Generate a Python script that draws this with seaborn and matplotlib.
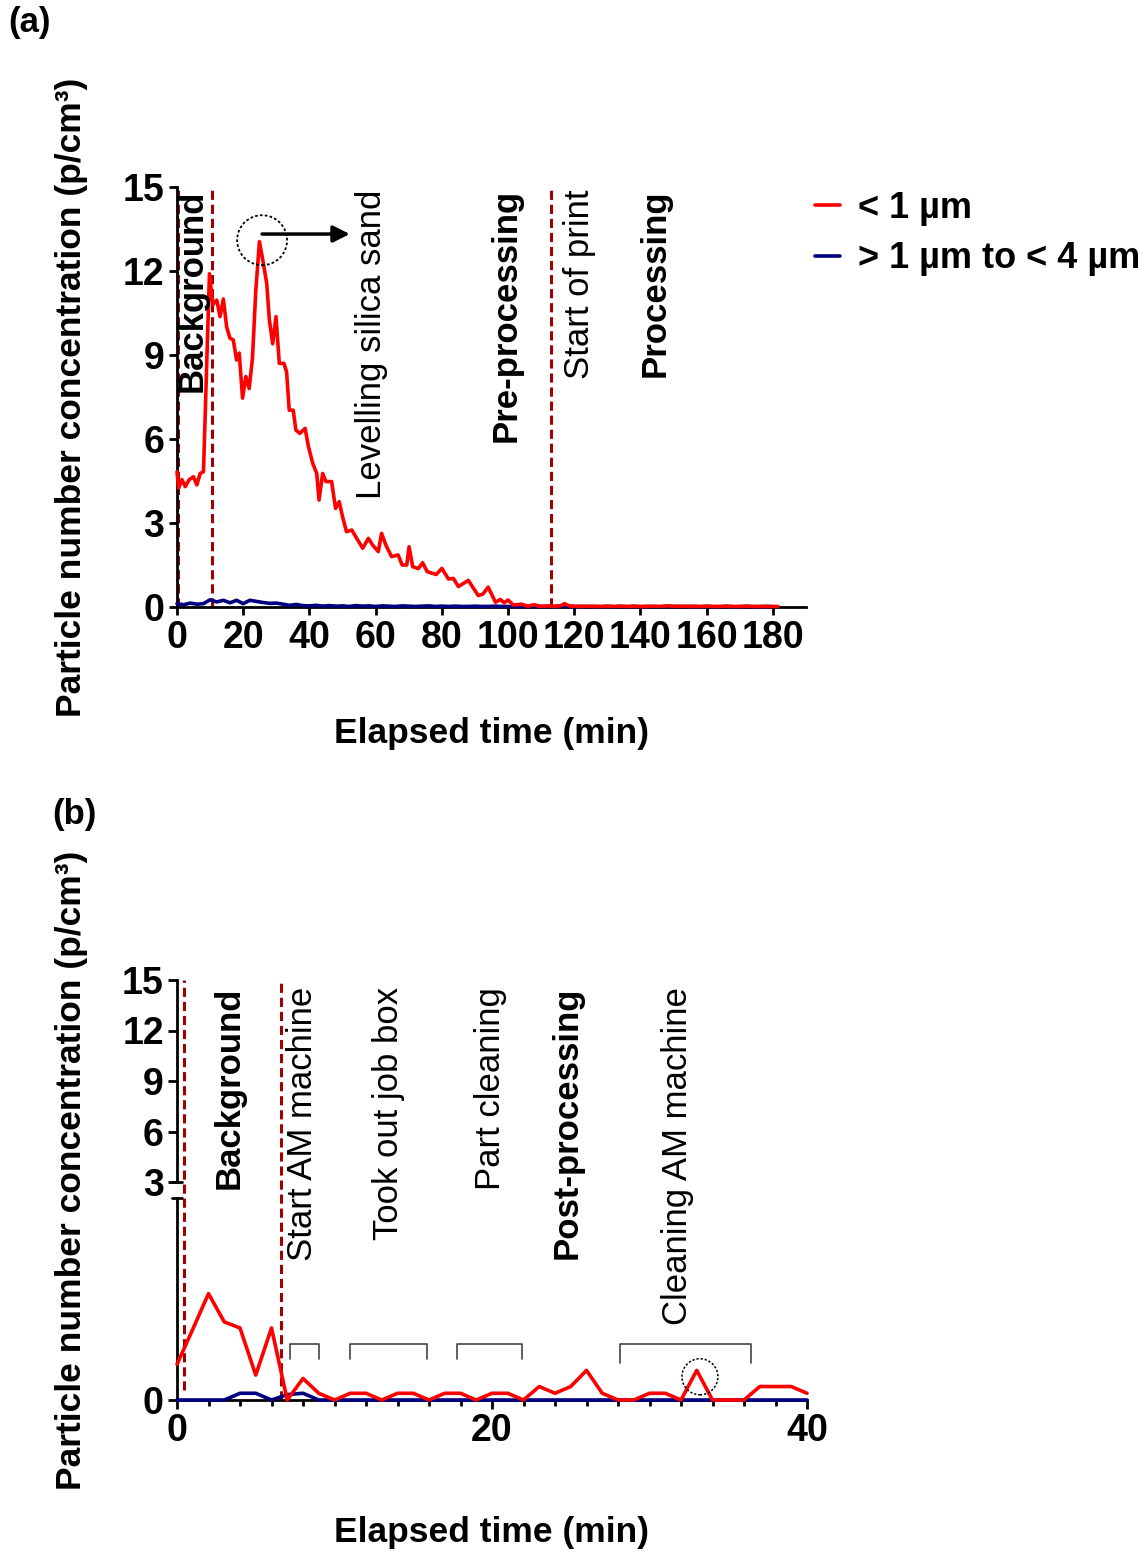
import matplotlib
matplotlib.use("Agg")
import matplotlib.pyplot as plt
import seaborn as sns
import pandas as pd
from matplotlib.patches import Ellipse

# ---------------- data ----------------
SMALL = "< 1 µm"
LARGE = "> 1 µm to < 4 µm"

# panel (a): < 1 µm series (time in min, concentration p/cm3)
a_red_t = [0, 0.5, 1.5, 2.5, 3.7, 5, 6, 7, 8, 9.8, 10.8, 12, 13, 14, 15, 16, 17, 18, 18.8,
           19.8, 20.8, 21.8, 22.8, 23.8, 24.9, 25.9, 27.1, 27.9, 28.9, 29.9, 30.9, 32.3, 33.1,
           33.9, 35.1, 35.9, 37.1, 38.7, 39.7, 41, 42.2, 42.9, 44, 45, 46.7, 47.9, 49, 50, 51.2,
           52.8, 54.3, 56.1, 57.8, 59.1, 60.8, 61.8, 63.1, 64.8, 66.8, 68, 69.4, 70.1, 71.2,
           72.9, 74.2, 75.6, 78.3, 80, 82, 83.5, 85, 88, 91, 92.4, 94, 96.2, 97.7, 98.8, 100,
           101.6, 104, 106, 107.8, 110, 112, 114, 116, 117, 118.5, 120, 122, 124, 126, 128,
           130, 132, 134, 136, 138, 140, 142, 144, 146, 148, 150, 152, 154, 156, 158, 160,
           162, 164, 166, 168, 170, 172, 174, 176, 178, 180, 181.5]
a_red_v = [4.83, 4.25, 4.55, 4.3, 4.55, 4.65, 4.36, 4.77, 4.83, 11.9, 10.8, 10.96, 10.37, 11.0,
           10.0, 9.6, 9.54, 8.82, 9.07, 7.46, 8.23, 7.8, 8.9, 11.3, 13.05, 12.4, 11.56, 10.25,
           9.4, 10.37, 8.7, 8.7, 8.4, 7.03, 7.03, 6.32, 6.2, 6.38, 5.73, 5.13, 4.77, 3.82, 4.77,
           4.48, 4.48, 3.52, 3.76, 3.23, 2.69, 2.75, 2.45, 2.1, 2.45, 2.21, 1.98, 2.63, 2.21,
           1.8, 1.86, 1.5, 1.5, 2.15, 1.44, 1.37, 1.58, 1.26, 1.16, 1.38, 1.0, 1.02, 0.73,
           0.95, 0.41, 0.46, 0.71, 0.17, 0.27, 0.15, 0.25, 0.07, 0.1, 0.03, 0.08, 0.02, 0.04,
           0.02, 0.05, 0.12, 0.04, 0.03, 0.02, 0.03, 0.02, 0.02, 0.03, 0.02, 0.03, 0.02, 0.03,
           0.02, 0.02, 0.03, 0.02, 0.04, 0.03, 0.02, 0.03, 0.02, 0.02, 0.03, 0.02, 0.02, 0.03,
           0.02, 0.02, 0.03, 0.02, 0.02, 0.02, 0.02, 0.02]

# panel (a): > 1 µm to < 4 µm series (every 2 min)
a_blue_t = list(range(0, 182, 2))
a_blue_v = [0.12, 0.08, 0.14, 0.10, 0.12,
            0.26, 0.18, 0.24, 0.15, 0.24,
            0.12, 0.24, 0.20, 0.16, 0.13,
            0.14, 0.10, 0.06, 0.09, 0.05,
            0.04, 0.06, 0.03, 0.05, 0.03,
            0.04, 0.02, 0.05, 0.03, 0.04,
            0.02, 0.04, 0.03, 0.02, 0.04,
            0.03, 0.02, 0.03, 0.04, 0.02,
            0.03, 0.02, 0.03, 0.02, 0.02,
            0.03, 0.02, 0.02, 0.03, 0.02,
            0.02, 0.01, 0.02, 0.02, 0.01,
            0.02, 0.01, 0.02, 0.03, 0.02,
            0.01, 0.02, 0.01, 0.02, 0.01,
            0.02, 0.01, 0.02, 0.01, 0.02,
            0.01, 0.02, 0.01, 0.01, 0.02,
            0.01, 0.02, 0.01, 0.02, 0.01,
            0.02, 0.01, 0.01, 0.02, 0.01,
            0.01, 0.02, 0.01, 0.01, 0.02,
            0.01]

# panel (b): one reading per minute, 0..40 min
b_t = list(range(0, 41))
b_red_v = [0.53, 1.05, 1.58, 1.16, 1.07, 0.37, 1.07, 0.0, 0.32, 0.1, 0.0, 0.1, 0.1, 0.0,
           0.1, 0.1, 0.0, 0.1, 0.1, 0.0, 0.1, 0.1, 0.0, 0.2, 0.1, 0.2, 0.44, 0.1, 0.0, 0.0,
           0.1, 0.1, 0.0, 0.44, 0.0, 0.0, 0.0, 0.2, 0.2, 0.2, 0.1]
b_blue_v = [0, 0, 0, 0, 0.1, 0.1, 0, 0.08, 0.1, 0, 0, 0, 0, 0, 0, 0, 0, 0, 0, 0, 0, 0, 0, 0,
            0, 0, 0, 0, 0, 0, 0, 0, 0, 0, 0, 0, 0, 0, 0, 0, 0]

a_xticks = [0, 20, 40, 60, 80, 100, 120, 140, 160, 180]
a_yticks = [0, 3, 6, 9, 12, 15]
b_upper_yticks = [3, 6, 9, 12, 15]
b_xticks = [0, 20, 40]

a_phase_lines = [0.3, 10.5, 113]
b_phase_lines = [0.46, 6.6]

a_notes = [("Background", 4.5, "bold"), ("Levelling silica sand", 58.9, "normal"),
           ("Pre-processing", 99.4, "bold"), ("Start of print", 121.7, "normal"),
           ("Processing", 144.4, "bold")]
b_notes = [("Background", 3.3, "bold"), ("Start AM machine", 8.0, "normal"),
           ("Took out job box", 13.4, "normal"), ("Part cleaning", 19.9, "normal"),
           ("Post-processing", 24.8, "bold"), ("Cleaning AM machine", 31.8, "normal")]
b_brackets = [(7.15, 9.0, 0.61), (11.0, 15.9, 0.61), (17.8, 21.9, 0.61), (28.1, 36.45, 0.55)]

RED = "#FF0000"
NAVY = "#000080"
DASH = "#A00000"

# ---------------- style ----------------
sns.set_theme(style="ticks", rc={"axes.edgecolor": "black", "xtick.color": "black",
                                 "ytick.color": "black", "text.color": "black",
                                 "axes.labelcolor": "black"})
plt.rcParams["font.family"] = ["Liberation Sans", "DejaVu Sans"]
plt.rcParams["font.weight"] = "bold"
plt.rcParams["axes.labelweight"] = "bold"

W, H = 1147, 1553
TICK_FS = 27
LABEL_FS = 25.5
NOTE_FS = 25
LW = 2.6
fig = plt.figure(figsize=(W / 100, H / 100), dpi=100)


def rect(x0, y_top, x1, y_bot):
    return [x0 / W, 1 - y_bot / H, (x1 - x0) / W, (y_bot - y_top) / H]


ax_a = fig.add_axes(rect(177, 187, 806, 607))
ax_bt = fig.add_axes(rect(177, 980, 807, 1182))
ax_bb = fig.add_axes(rect(177, 1198, 807, 1400), sharex=ax_bt)

palette = {SMALL: RED, LARGE: NAVY}
order = [LARGE, SMALL]

df_a = pd.concat([
    pd.DataFrame({"time": a_blue_t, "conc": a_blue_v, "size": LARGE}),
    pd.DataFrame({"time": a_red_t, "conc": a_red_v, "size": SMALL}),
])
df_b = pd.concat([
    pd.DataFrame({"time": b_t, "conc": b_blue_v, "size": LARGE}),
    pd.DataFrame({"time": b_t, "conc": b_red_v, "size": SMALL}),
])

sns.lineplot(data=df_a, x="time", y="conc", hue="size", hue_order=order, palette=palette,
             estimator=None, lw=LW, ax=ax_a, clip_on=False, zorder=3)
sns.lineplot(data=df_b, x="time", y="conc", hue="size", hue_order=order, palette=palette,
             estimator=None, lw=LW, ax=ax_bb, clip_on=False, zorder=3, legend=False)

# ---------------- panel (a) axes ----------------
ax_a.set_xlim(0, 190)
ax_a.set_ylim(0, 15)
ax_a.set_xticks(a_xticks)
ax_a.set_yticks(a_yticks)
for s in ["top", "right"]:
    ax_a.spines[s].set_visible(False)
for s in ["left", "bottom"]:
    ax_a.spines[s].set_linewidth(2)
ax_a.tick_params(direction="out", length=6, width=2, labelsize=TICK_FS, pad=3)
ax_a.set_xlabel("Elapsed time (min)", fontsize=LABEL_FS)
ax_a.set_ylabel("Particle number concentration (p/cm³)", fontsize=LABEL_FS)
ax_a.xaxis.set_label_coords(0.5, -0.262)
ax_a.yaxis.set_label_coords(-0.142, 0.5)

for x in a_phase_lines:
    ax_a.axvline(x, color=DASH, lw=2.2, ls=(0, (3, 1.6)), zorder=2)
for txt, x, w in a_notes:
    ax_a.text(x, 14.92, txt, rotation=90, ha="center", va="top", fontsize=NOTE_FS,
              fontweight=w)

ax_a.add_patch(Ellipse((25.7, 13.1), 2 * 25 / 3.311, 2 * 25 / 28, fill=False, ec="black",
                       lw=1.3, ls=(0, (1.5, 1.2)), zorder=4))
ax_a.annotate("", xy=(52.2, 13.32), xytext=(25.7, 13.32),
              arrowprops=dict(arrowstyle="-|>", color="black", lw=2.5, mutation_scale=25,
                              shrinkA=0, shrinkB=0))

h, l = ax_a.get_legend_handles_labels()
hl = dict(zip(l, h))
ax_a.legend([hl[SMALL], hl[LARGE]], [SMALL, LARGE], loc="upper left",
            bbox_to_anchor=(815 / W, 1 - 191 / H), bbox_transform=fig.transFigure,
            frameon=False, handlelength=0.7, handletextpad=0.5, labelspacing=0.42,
            borderpad=0, borderaxespad=0, prop={"weight": "bold", "size": 26})

# ---------------- panel (b) axes ----------------
ax_bb.set_xlim(0, 40)
ax_bb.set_ylim(0, 3)
ax_bt.set_ylim(3, 15)
ax_bb.set_xticks(b_xticks)
ax_bb.set_xticks(list(range(0, 41, 2)), minor=True)
ax_bb.set_yticks([0])
ax_bt.set_yticks(b_upper_yticks)
for ax in (ax_bt, ax_bb):
    for s in ["top", "right"]:
        ax.spines[s].set_visible(False)
    ax.spines["left"].set_linewidth(2)
    ax.tick_params(direction="out", length=6.5, width=2, labelsize=TICK_FS, pad=3)
ax_bb.spines["bottom"].set_linewidth(2)
ax_bb.tick_params(axis="x", which="minor", direction="out", length=4.5, width=2)
ax_bt.spines["bottom"].set_visible(False)
ax_bt.tick_params(axis="x", which="both", bottom=False, labelbottom=False)
ax_bt.set_xlabel("")
ax_bt.set_ylabel("")
ax_bt.patch.set_alpha(0)
ax_bb.patch.set_alpha(0)

# break caps on the y axis
ax_bb.plot([-0.008, 0.008], [1, 1], transform=ax_bb.transAxes, color="black", lw=2,
           clip_on=False)
ax_bt.plot([-0.008, 0.008], [0, 0], transform=ax_bt.transAxes, color="black", lw=2,
           clip_on=False)

ax_bb.set_xlabel("Elapsed time (min)", fontsize=LABEL_FS)
ax_bb.set_ylabel("Particle number concentration (p/cm³)", fontsize=LABEL_FS)
ax_bb.xaxis.set_label_coords(0.5, -0.575)
ax_bb.yaxis.set_label_coords(-0.1415, 1.139)

top_frac = (1400 - 980) / 202
for x, ymin in zip(b_phase_lines, [0.05, 0.0]):
    ax_bb.axvline(x, ymin=ymin, ymax=top_frac, color=DASH, lw=2.2, ls=(0, (3, 1.6)),
                  clip_on=False, zorder=2)

for txt, x, w in b_notes:
    ax_bt.text(x, 14.6, txt, rotation=90, ha="center", va="top", fontsize=NOTE_FS,
               fontweight=w)

for x0, x1, leg in b_brackets:
    ax_bb.plot([x0, x0, x1, x1], [leg, 0.83, 0.83, leg], color="#444444", lw=1.2)

ax_bb.add_patch(Ellipse((33.2, 0.345), 2 * 18 / 15.75, 2 * 18 / 67.3, fill=False, ec="black",
                        lw=1.1, ls=(0, (1.5, 1.2)), zorder=4))

fig.text(8 / W, 1 - 6 / H, "(a)", ha="left", va="top", fontsize=25, fontweight="bold")
fig.text(52 / W, 1 - 798 / H, "(b)", ha="left", va="top", fontsize=25, fontweight="bold")

fig.savefig("out.png", dpi=100)
